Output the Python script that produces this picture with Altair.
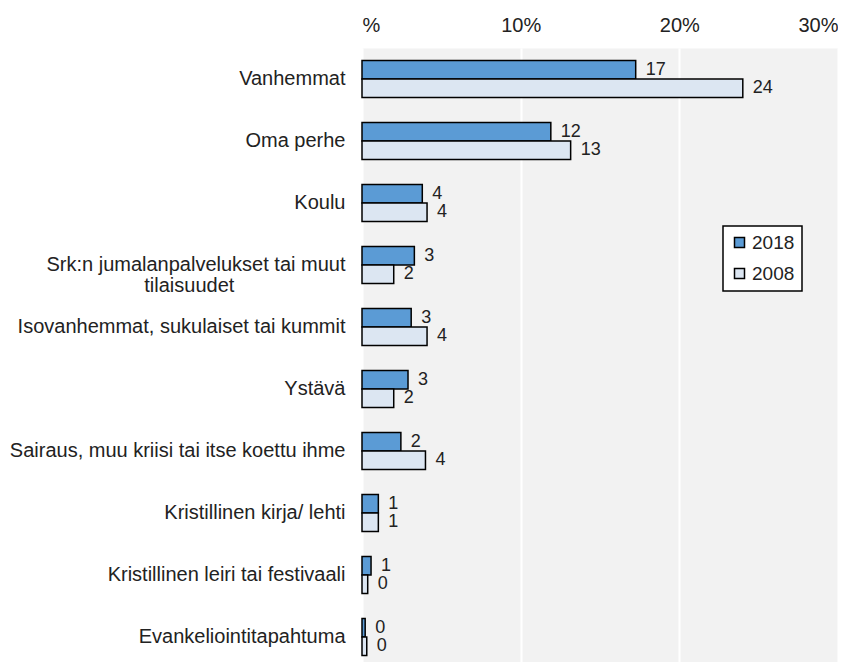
import altair as alt
import pandas as pd

categories = [
    "Vanhemmat",
    "Oma perhe",
    "Koulu",
    "Srk:n jumalanpalvelukset tai muut tilaisuudet",
    "Isovanhemmat, sukulaiset tai kummit",
    "Ystävä",
    "Sairaus, muu kriisi tai itse koettu ihme",
    "Kristillinen kirja/ lehti",
    "Kristillinen leiri tai festivaali",
    "Evankeliointitapahtuma",
]
years = ["2018", "2008"]
values_2018 = [17.25, 11.9, 3.8, 3.3, 3.1, 2.9, 2.45, 1.03, 0.57, 0.2]
values_2008 = [24.0, 13.15, 4.1, 2.0, 4.1, 2.0, 4.0, 1.03, 0.36, 0.3]
labels_2018 = [17, 12, 4, 3, 3, 3, 2, 1, 1, 0]
labels_2008 = [24, 13, 4, 2, 4, 2, 4, 1, 0, 0]
x_ticks = [0, 10, 20, 30]
colors = ["#5B9BD5", "#DCE6F2"]

rows = []
for i, c in enumerate(categories):
    rows.append({"cat": c, "year": years[0], "value": values_2018[i], "label": str(labels_2018[i])})
    rows.append({"cat": c, "year": years[1], "value": values_2008[i], "label": str(labels_2008[i])})
df = pd.DataFrame(rows)

pad = "\u00a0" * 20 + "\u200b"
srk = categories[3]
label_expr = (
    f"datum.value == '{srk}' ? ['Srk:n jumalanpalvelukset tai muut', 'tilaisuudet{pad}'] : datum.value"
)

y_enc = alt.Y(
    "cat:N",
    sort=categories,
    title=None,
    scale=alt.Scale(paddingInner=0.4, paddingOuter=0.2),
    axis=alt.Axis(
        labelExpr=label_expr,
        labelFontSize=20,
        labelFont="Liberation Sans",
        labelColor="#222222",
        labelPadding=17,
        labelLimit=500,
        labelLineHeight=21,
        ticks=False,
        domain=False,
    ),
)
yoff = alt.YOffset("year:N", sort=years, scale=alt.Scale(paddingInner=0, paddingOuter=0))
x_enc = alt.X(
    "value:Q",
    title=None,
    scale=alt.Scale(domain=[0, 30], nice=False),
    axis=alt.Axis(
        orient="top",
        values=x_ticks,
        labelExpr="datum.value == 0 ? '%' : datum.value + '%'",
        labelFontSize=20,
        labelFont="Liberation Sans",
        labelColor="#222222",
        labelPadding=13,
        ticks=False,
        domain=False,
        grid=True,
        gridColor="#ffffff",
        gridWidth=2,
    ),
)

bars = alt.Chart(df).mark_bar(stroke="black", strokeWidth=1.5).encode(
    y=y_enc,
    yOffset=yoff,
    x=x_enc,
    color=alt.Color(
        "year:N",
        sort=years,
        scale=alt.Scale(domain=years, range=colors),
        legend=alt.Legend(
            title=None,
            orient="none",
            legendX=361,
            legendY=178,
            symbolType="square",
            symbolSize=100,
            symbolStrokeColor="black",
            symbolStrokeWidth=1.5,
            labelFontSize=19,
            labelFont="Liberation Sans",
            labelColor="#222222",
            labelOffset=3,
            fillColor="white",
            strokeColor="black",
            padding=7,
            rowPadding=11,
        ),
    ),
)

texts = alt.Chart(df).mark_text(
    align="left", baseline="middle", dx=10, fontSize=18, font="Liberation Sans", color="#222222"
).encode(
    y=alt.Y("cat:N", sort=categories),
    yOffset=alt.YOffset("year:N", sort=years),
    x=alt.X("value:Q"),
    text="label:N",
)

chart = (
    alt.layer(bars, texts)
    .properties(
        width=476,
        height=620,
        autosize=alt.AutoSizeParams(type="none"),
        padding={"left": 354, "top": 40, "right": 0, "bottom": 0},
    )
    .configure_view(fill="#f2f2f2", stroke="transparent")
    .configure_legend(strokeWidth=1.5)
)

chart.save("out.html", embed_options={"renderer": "svg", "actions": False})
